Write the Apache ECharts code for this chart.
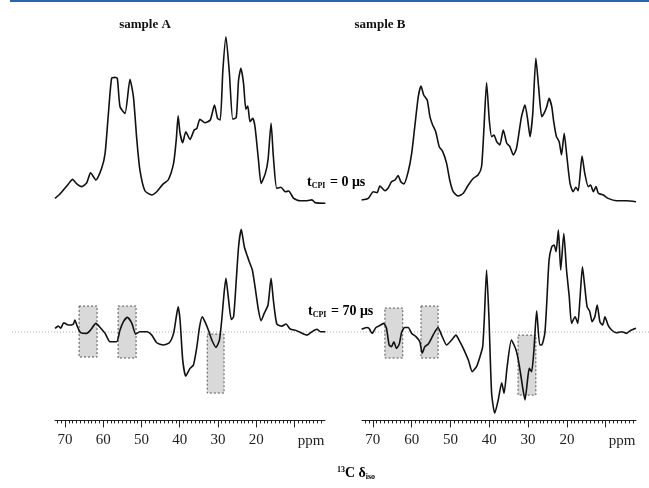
<!DOCTYPE html>
<html>
<head>
<meta charset="utf-8">
<script src="https://cdn.jsdelivr.net/npm/echarts@6/dist/echarts.min.js"></script>
<style>
  html, body { margin: 0; padding: 0; background: #fff; }
  #main { width: 649px; height: 488px; }
</style>
</head>
<body>
<div id="main"></div>
<script>
// sample A, t_CPI = 0 us
var ppmA0 = [72.6,71.5,70.4,69.1,68.0,66.9,65.6,64.3,63.3,61.9,60.4,59.5,58.7,57.8,56.9,56.3,55.6,54.3,53.0,52.1,51.2,50.4,49.1,47.3,46.0,44.3,43.0,41.6,40.9,40.4,39.9,39.2,38.4,37.3,36.2,35.5,34.7,33.4,32.0,30.9,30.1,29.4,28.7,27.9,27.0,26.1,25.2,24.6,24.0,23.3,22.7,22.2,21.6,20.9,20.3,19.4,18.7,17.6,16.9,16.1,15.5,14.6,13.5,12.4,11.5,10.2,8.5,6.7,5.4,4.6,1.9];
var intA0 = [3.9,6,8.8,12.4,15.1,12.4,10.8,13.1,19.0,14.7,21.6,30.4,52,74.5,75.1,74.5,57.8,53.9,73.9,63.7,38.2,20.6,8.4,5.9,7.8,12.4,14.7,24.5,38.2,52.4,42.2,36.7,43.1,38.6,44.1,45.1,50.4,48.4,50.0,58.8,51,50,79.4,99,77.5,50.4,51.6,73.5,80.4,71.6,56.3,58.2,49,51,46,26.5,12.7,18.6,26.5,48,28.4,9.8,10.4,7.8,8.2,3.9,2.5,2.5,3.0,1.4,1.0];

// sample A, t_CPI = 70 us
var ppmA70 = [72.6,71.7,71.1,70.3,69.1,67.8,67.4,66.8,65.9,64.3,63.3,61.9,60.8,59.5,58.2,56.5,55.6,54.7,53.7,52.5,51.5,50.4,48.6,47.3,46.0,44.3,42.7,41.6,40.9,40.4,39.9,39.2,38.4,37.3,36.4,35.5,34.8,34.1,33.4,32.5,31.6,30.5,29.6,29.0,28.4,27.9,27.3,26.5,25.9,25.2,24.6,23.9,23.1,22.4,21.8,21.0,20.3,19.4,18.7,17.9,16.9,16.1,15.5,14.6,13.3,12.2,11.1,9.4,7.6,6.7,5.4,4.1,3.2,1.9];
var intA70 = [2.2,3.5,2.2,5.5,4.1,4.7,7.1,3.5,-0.4,-0.8,1.2,5.1,2.7,-0.8,-5.7,-5.7,1.2,6.1,8.6,5.1,-1.2,0.2,0.2,-1.8,-6.3,-7.6,-6.3,-0.8,8.8,14.9,7.1,-16.5,-25.9,-21.4,-19.4,-8.6,3.1,9.0,6.1,1.2,-4.7,-9.0,-4.7,7.1,22.7,31.6,20.8,7.4,9.0,30.6,50.2,60.4,50.2,45.3,41.4,36.5,26.7,12.9,6.7,11.0,15.9,31.6,18.8,4.7,3.5,4.7,1.8,0.8,-1.2,-1.8,0.2,1.6,0.2,0.2];

// sample B, t_CPI = 0 us
var ppmB0 = [72.9,71.2,69.9,68.9,68.2,66.9,66.1,65.2,64.3,63.5,62.8,62.0,60.9,60.0,59.2,58.3,57.6,56.9,56.0,55.3,54.6,53.8,52.9,52.0,51.0,50.2,49.3,48.0,46.7,45.4,44.1,42.9,42.0,41.4,40.7,40.0,39.4,38.8,38.1,37.3,36.4,35.5,34.7,33.8,33.0,31.7,30.8,30.1,29.5,28.8,28.0,27.3,26.5,25.9,25.2,24.6,23.9,23.4,22.7,22.0,21.4,20.7,20.1,19.2,18.4,17.7,17.1,16.1,15.4,14.5,13.9,13.2,12.5,11.9,10.6,9.4,7.2,4.6,2.2];
var intB0 = [2.9,3.9,7.8,7.3,11.2,8.4,9.8,13.7,14.7,17.3,13.7,12.4,19.6,30.4,46.1,63.7,70,64.7,61.8,52,47.1,43.1,34.3,31.4,24.5,14.7,7.8,5.3,6.9,11.8,15.7,17.6,22.5,44.1,71.9,49.9,40.2,41.2,37.3,35.3,44.1,36.3,34.3,29.4,33.3,52,58.8,50,40.2,53.9,86.3,69.6,52,53.9,57.8,62.7,57.8,49,40.2,37.3,29.4,42.2,30.4,12.7,7.8,10.4,8.4,28.8,18.6,10.8,11.8,7.8,10.8,6.9,5.9,3.9,2.5,2.5,1.9];

// sample B, t_CPI = 70 us
var ppmB70 = [72.9,71.6,71.0,70.2,69.2,68.0,67.2,66.5,65.8,65.2,64.6,63.9,63.2,62.6,61.8,60.9,60.0,58.9,57.9,57.3,56.6,55.7,54.9,54.0,53.2,52.3,51.0,49.7,48.6,47.8,46.7,45.4,44.4,43.3,42.4,41.7,41.3,40.7,40.1,39.4,38.6,37.7,36.8,36.2,35.4,34.3,33.1,32.3,31.3,30.8,30.1,29.7,29.1,28.5,27.8,27.0,26.5,25.7,25.2,24.6,23.9,23.3,22.8,22.2,21.6,20.8,20.1,19.4,18.8,17.9,17.2,16.6,16.0,15.4,14.8,14.1,13.5,12.8,12.2,11.5,10.8,10.2,9.4,8.5,7.2,5.9,4.6,3.7,2.2];
var intB70 = [1.6,2.7,2.2,-0.8,2.7,4.1,5.1,2.2,-7.6,-8.6,-5.7,-9.6,-7.1,-0.2,2.7,2.7,-0.8,-2.7,-5.7,-12.5,-8.6,-7.1,-3.7,0.2,2.7,-1.8,-7.6,-4.7,-1.8,-4.7,-9.6,-16.5,-23.3,-20.4,-14.5,-8.6,7.1,36.5,9.0,-36,-47.8,-40,-29.8,-36.1,-20.4,-4.7,-10.6,-19.4,-34.1,-40,-27.3,-21.4,-23.3,-10.6,12.5,-7.6,-7.6,-0.8,17,42.4,50.2,51.2,47.3,60,36.5,58,36.5,20.8,5.1,9.0,5.1,20.8,38.4,26.7,15,12,6.1,9.0,15.9,6.1,4.1,9.0,4.1,1.2,-0.4,0.2,-0.8,0.8,2.2];

// shaded windows: [ppm from, ppm to, intensity top, intensity bottom]
var boxesA = [[66.3,61.6,15.3,-14.7],[56.1,51.4,15.3,-15.3],[32.8,28.4,-1.2,-35.9]];
var boxesB = [[66.9,62.3,14.1,-15.3],[57.6,53.2,15.3,-15.3],[32.6,28.0,-1.8,-37.1]];

var minorTicks = [];
for (var t = 3; t <= 72; t++) minorTicks.push(t);
var majorTicks = [70,60,50,40,30,20,10];
var tickLabels = [70,60,50,40,30,20];

function zip(xs, ys) {
  var out = [];
  for (var i = 0; i < xs.length; i++) out.push([xs[i], ys[i]]);
  return out;
}
function areas(b) {
  return b.map(function (r) { return [{ coord: [r[0], r[2]] }, { coord: [r[1], r[3]] }]; });
}

var serif = '"Liberation Serif", "DejaVu Serif", serif';
var lineStyle = { color: '#111', width: 1.6 };

function hiddenX(grid, min, max) {
  return { type: 'value', gridIndex: grid, min: min, max: max, inverse: true, show: false };
}
function minorX(grid, min, max) {
  return {
    type: 'value', gridIndex: grid, min: min, max: max, inverse: true, position: 'bottom',
    axisLine: { show: true, onZero: false, lineStyle: { color: '#222', width: 1 } },
    axisTick: { show: true, length: 3, customValues: minorTicks, lineStyle: { color: '#222', width: 1 } },
    axisLabel: { show: false }, splitLine: { show: false }
  };
}
function majorX(grid, min, max) {
  return {
    type: 'value', gridIndex: grid, min: min, max: max, inverse: true, position: 'bottom',
    axisLine: { show: false, onZero: false },
    axisTick: { show: true, length: 7, customValues: majorTicks, lineStyle: { color: '#222', width: 1 } },
    axisLabel: { show: true, customValues: tickLabels, margin: 12, color: '#222', fontFamily: serif, fontSize: 15 },
    splitLine: { show: false }
  };
}
function hiddenY(grid, min, max) {
  return { type: 'value', gridIndex: grid, min: min, max: max, show: false, splitLine: { show: false } };
}
function spectrum(name, x, y, data, boxes) {
  var s = {
    name: name, type: 'line', xAxisIndex: x, yAxisIndex: y, data: data,
    showSymbol: false, smooth: 0.2, lineStyle: lineStyle, silent: true, clip: false
  };
  if (boxes) {
    s.markArea = {
      silent: true,
      itemStyle: { color: '#d9d9d9', borderColor: '#555', borderWidth: 1, borderType: [2, 2] },
      data: areas(boxes)
    };
  }
  return s;
}

var chart = echarts.init(document.getElementById('main'));
var option = {
  backgroundColor: '#fff',
  animation: false,
  grid: [
    { left: 55, width: 270, top: 35, height: 170 },
    { left: 55, width: 270, top: 226, height: 194.4 },
    { left: 362, width: 274, top: 35, height: 170 },
    { left: 362, width: 274, top: 226, height: 194.4 }
  ],
  xAxis: [
    hiddenX(0, 2, 72.6),
    minorX(1, 2, 72.6),
    majorX(1, 2, 72.6),
    hiddenX(2, 2.2, 72.8),
    minorX(3, 2.2, 72.8),
    majorX(3, 2.2, 72.8)
  ],
  yAxis: [
    hiddenY(0, 0, 100),
    hiddenY(1, -52, 62.4),
    hiddenY(2, 0, 100),
    hiddenY(3, -52, 62.4)
  ],
  series: [
    spectrum('A 0 us', 0, 0, zip(ppmA0, intA0)),
    spectrum('A 70 us', 1, 1, zip(ppmA70, intA70), boxesA),
    spectrum('B 0 us', 3, 2, zip(ppmB0, intB0)),
    spectrum('B 70 us', 4, 3, zip(ppmB70, intB70), boxesB)
  ]
};
chart.setOption(option);

var y0 = chart.convertToPixel({ yAxisIndex: 1 }, 0);
var bold = { fontFamily: serif, fontWeight: 'bold', fontSize: 13, fill: '#111' };
var tRich = {
  t: { fontFamily: serif, fontWeight: 'bold', fontSize: 14, color: '#111' },
  s: { fontFamily: serif, fontWeight: 'bold', fontSize: 8, color: '#111', padding: [7, 1, 0, 0] }
};
chart.setOption({
  graphic: [
    { type: 'line', z: 0, shape: { x1: 10, y1: 1, x2: 649, y2: 1 }, style: { stroke: '#2a63b2', lineWidth: 2 } },
    { type: 'line', z: -1, shape: { x1: 12, y1: y0, x2: 649, y2: y0 }, style: { stroke: '#aaa', lineWidth: 1, lineDash: [1, 2] } },
    { type: 'text', x: 145, y: 25, style: Object.assign({ text: 'sample A', align: 'center', verticalAlign: 'middle' }, bold) },
    { type: 'text', x: 380, y: 25, style: Object.assign({ text: 'sample B', align: 'center', verticalAlign: 'middle' }, bold) },
    { type: 'text', x: 307, y: 182, style: { text: '{t|t}{s|CPI}{t| = 0 μs}', rich: tRich, verticalAlign: 'middle' } },
    { type: 'text', x: 308, y: 311, style: { text: '{t|t}{s|CPI}{t| = 70 μs}', rich: tRich, verticalAlign: 'middle' } },
    { type: 'text', x: 311, y: 441, style: { text: 'ppm', align: 'center', verticalAlign: 'middle', fontFamily: serif, fontSize: 15, fill: '#222' } },
    { type: 'text', x: 622, y: 441, style: { text: 'ppm', align: 'center', verticalAlign: 'middle', fontFamily: serif, fontSize: 15, fill: '#222' } },
    { type: 'text', x: 356, y: 473, style: {
      text: '{p|13}{t|C δ}{s|iso}', align: 'center', verticalAlign: 'middle',
      rich: {
        p: { fontFamily: serif, fontWeight: 'bold', fontSize: 8, color: '#111', padding: [0, 0, 7, 0] },
        t: { fontFamily: serif, fontWeight: 'bold', fontSize: 14, color: '#111' },
        s: { fontFamily: serif, fontWeight: 'bold', fontSize: 8, color: '#111', padding: [7, 0, 0, 0] }
      }
    } }
  ]
});
</script>
</body>
</html>
